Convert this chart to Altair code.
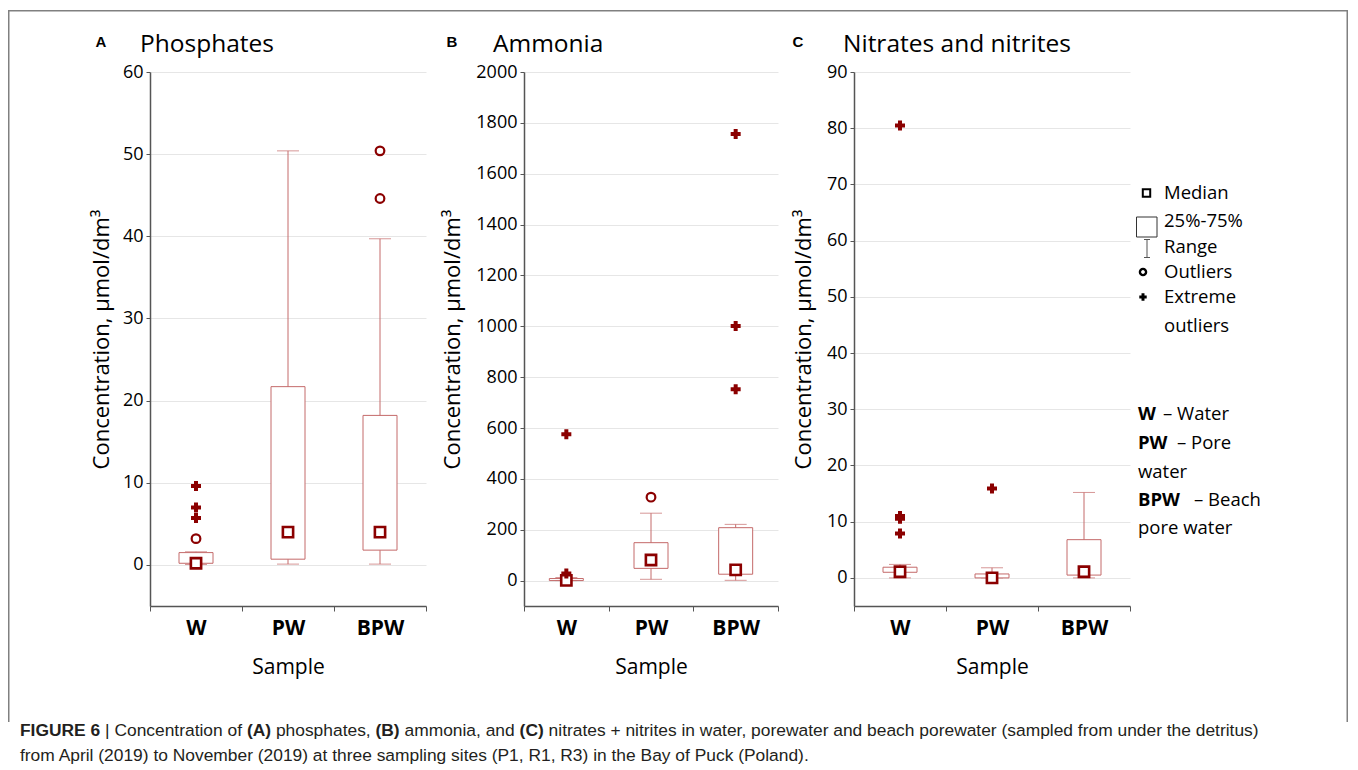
import altair as alt
import pandas as pd

CATS = ["W", "PW", "BPW"]
LETTERS = ["A", "B", "C"]
TITLES = ["Phosphates", "Ammonia", "Nitrates and nitrites"]
Y_TITLE = "Concentration, µmol/dm³"
X_TITLE = "Sample"

# (A) phosphates
PHO_MIN = [0.05, 0.1, 0.1]
PHO_Q1 = [0.2, 0.7, 1.8]
PHO_MED = [0.2, 4.0, 4.0]
PHO_Q3 = [1.5, 21.7, 18.2]
PHO_MAX = [1.6, 50.4, 39.7]
PHO_OUT_CAT = ["W", "BPW", "BPW"]
PHO_OUT_VAL = [3.2, 50.4, 44.6]
PHO_EXT_CAT = ["W", "W", "W"]
PHO_EXT_VAL = [9.6, 7.0, 5.7]
PHO_TICKS = [0, 10, 20, 30, 40, 50, 60]

# (B) ammonia
AMM_MIN = [0, 5, 1]
AMM_Q1 = [0, 48, 25]
AMM_MED = [1, 81, 42]
AMM_Q3 = [8, 149, 208]
AMM_MAX = [12, 265, 221]
AMM_OUT_CAT = ["PW"]
AMM_OUT_VAL = [328]
AMM_EXT_CAT = ["W", "W", "BPW", "BPW", "BPW"]
AMM_EXT_VAL = [575, 28, 1756, 1001, 752]
AMM_TICKS = [0, 200, 400, 600, 800, 1000, 1200, 1400, 1600, 1800, 2000]

# (C) nitrates and nitrites
NIT_MIN = [0.0, 0.0, 0.0]
NIT_Q1 = [1.0, 0.0, 0.5]
NIT_MED = [1.1, 0.0, 1.1]
NIT_Q3 = [1.9, 0.7, 6.8]
NIT_MAX = [2.4, 1.8, 15.2]
NIT_OUT_CAT = []
NIT_OUT_VAL = []
NIT_EXT_CAT = ["W", "W", "W", "W", "PW"]
NIT_EXT_VAL = [80.5, 11.0, 10.5, 7.9, 15.9]
NIT_TICKS = [0, 10, 20, 30, 40, 50, 60, 70, 80, 90]

LEGEND_LABELS = ["Median", "25%-75%", "Range", "Outliers", "Extreme", "outliers"]
CODE_BOLD = ["W", "PW", "BPW"]
CODE_REST = ["– Water", "– Pore", "– Beach"]
CODE_WRAP = ["water", "pore water"]

CAP_LINE1 = ["FIGURE 6", "|", "Concentration of", "(A)", "phosphates,", "(B)",
             "ammonia, and", "(C)",
             "nitrates + nitrites in water, porewater and beach porewater (sampled from under the detritus)"]
CAP_BOLD1 = [True, False, False, True, False, True, False, True, False]
CAP_LINE2 = "from April (2019) to November (2019) at three sampling sites (P1, R1, R3) in the Bay of Puck (Poland)."

BOX_C = "#C46A6A"
DARK = "#8B0000"
AX_C = "#555555"
GRID_C = "#E6E6E6"
FRAME_C = "#808080"
FONT = "Open Sans"
H = 534
ONE = pd.DataFrame({"k": [0]})


def bar(x, x2, y, y2, color=FRAME_C):
    # thin filled rectangle used as a frame / legend line
    return alt.Chart(ONE).mark_rect(fill=color, strokeWidth=0).encode(
        x=alt.value(x), x2=alt.value(x2), y=alt.value(y), y2=alt.value(y2))


def text(s, x, y, size=18.5, bold=False, font=FONT, align="left",
         baseline="middle", color="black"):
    return alt.Chart(ONE).mark_text(
        text=s, font=font, fontSize=size, fontWeight="bold" if bold else "normal",
        align=align, baseline=baseline, color=color
    ).encode(x=alt.value(x), y=alt.value(y))


def panel(i, mins, q1, med, q3, mx, out_cat, out_val, ext_cat, ext_val,
          ymin, ticks, width, title_x, letter_x, head_x, frame_from):
    stats = pd.DataFrame({"cat": CATS, "lo": mins, "q1": q1, "med": med,
                          "q3": q3, "hi": mx})
    xenc = alt.X("cat:N", sort=CATS,
                 scale=alt.Scale(domain=CATS, paddingInner=0, paddingOuter=0),
                 axis=alt.Axis(title=X_TITLE, titleFont=FONT, titleFontSize=21,
                               titleFontWeight="normal", titleColor="black",
                               titleY=61, titleBaseline="middle",
                               labelFont=FONT, labelFontSize=21,
                               labelFontWeight="bold", labelColor="black",
                               labelAngle=0, labelPadding=6, tickBand="extent",
                               tickSize=5, tickColor=AX_C, domainColor=AX_C,
                               domainWidth=1.5, grid=False))
    yscale = alt.Scale(domain=[ymin, ticks[-1]], nice=False, zero=False)
    yaxis = alt.Axis(values=ticks, format="d", title=Y_TITLE, titleFont=FONT,
                     titleFontSize=22, titleFontWeight="normal",
                     titleColor="black", titleAngle=-90, titleX=title_x,
                     titleY=H / 2, titleBaseline="middle", titleAlign="center",
                     labelFont=FONT, labelFontSize=18, labelColor="black",
                     labelPadding=3, tickSize=4, tickColor=AX_C,
                     domainColor=AX_C, domainWidth=1.5, grid=True,
                     gridColor=GRID_C, gridWidth=1)

    def yf(f):
        return alt.Y(f, scale=yscale, axis=yaxis)

    base = alt.Chart(stats)
    layers = [
        base.mark_rule(color=BOX_C, strokeWidth=1).encode(x=xenc, y=yf("lo:Q"), y2="hi:Q"),
        base.mark_tick(color=BOX_C, thickness=1, size=22).encode(x=xenc, y=yf("lo:Q")),
        base.mark_tick(color=BOX_C, thickness=1, size=22).encode(x=xenc, y=yf("hi:Q")),
        base.mark_bar(width=34, fill="white", stroke=BOX_C, strokeWidth=1).encode(
            x=xenc, y=yf("q1:Q"), y2="q3:Q"),
        base.mark_point(shape="square", fill="white", fillOpacity=1, stroke=DARK,
                        strokeWidth=2.6, size=105, opacity=1).encode(x=xenc, y=yf("med:Q")),
    ]
    if out_val:
        od = pd.DataFrame({"cat": out_cat, "v": out_val})
        layers.append(alt.Chart(od).mark_point(
            shape="circle", fill="white", fillOpacity=1, stroke=DARK,
            strokeWidth=2.2, size=75, opacity=1).encode(x=xenc, y=yf("v:Q")))
    if ext_val:
        ed = pd.DataFrame({"cat": ext_cat, "v": ext_val})
        layers.append(alt.Chart(ed).mark_point(
            shape="cross", filled=True, color=DARK, size=100, opacity=1
        ).encode(x=xenc, y=yf("v:Q")))
    layers.append(text(LETTERS[i], letter_x, -25, size=15, bold=True,
                       font="Liberation Sans", align="center", baseline="alphabetic"))
    layers.append(text(TITLES[i], head_x, -20, size=24.5, baseline="alphabetic"))
    # frame pieces (top edge, and left edge on the first panel)
    layers.append(bar(frame_from, width + 2, -62, -60.5))
    if i == 0:
        layers.append(bar(frame_from, frame_from + 1.5, -62, 650))
    return alt.layer(*layers).properties(width=width, height=H)


pA = panel(0, PHO_MIN, PHO_Q1, PHO_MED, PHO_Q3, PHO_MAX, PHO_OUT_CAT, PHO_OUT_VAL,
           PHO_EXT_CAT, PHO_EXT_VAL, -5, PHO_TICKS, 276, -49, -49, -10, -142)
pB = panel(1, AMM_MIN, AMM_Q1, AMM_MED, AMM_Q3, AMM_MAX, AMM_OUT_CAT, AMM_OUT_VAL,
           AMM_EXT_CAT, AMM_EXT_VAL, -100, AMM_TICKS, 254, -72, -72, -31, -96)
pC = panel(2, NIT_MIN, NIT_Q1, NIT_MED, NIT_Q3, NIT_MAX, NIT_OUT_CAT, NIT_OUT_VAL,
           NIT_EXT_CAT, NIT_EXT_VAL, -5, NIT_TICKS, 276, -51, -56, -11, -74)

# legend panel
leg = [
    bar(-4, 212, -62, -60.5),
    bar(210.5, 212, -62, 650),
    alt.Chart(ONE).mark_point(shape="square", filled=False, stroke="black",
                              strokeWidth=2, size=55, opacity=1).encode(
        x=alt.value(10.5), y=alt.value(121)),
    alt.Chart(ONE).mark_rect(fill="white", stroke="#333333", strokeWidth=1).encode(
        x=alt.value(0.5), x2=alt.value(21), y=alt.value(145), y2=alt.value(165)),
    bar(10.5, 11.5, 167, 186, color="#555555"),
    bar(8, 14, 167, 168, color="#555555"),
    bar(8, 14, 185, 186, color="#555555"),
    alt.Chart(ONE).mark_point(shape="circle", filled=False, stroke="black",
                              strokeWidth=2.4, size=38, opacity=1).encode(
        x=alt.value(7), y=alt.value(200)),
    alt.Chart(ONE).mark_point(shape="cross", filled=True, color="black",
                              size=55, opacity=1).encode(
        x=alt.value(7), y=alt.value(225)),
]
for lab, yy in zip(LEGEND_LABELS, [121, 149, 175, 200, 225, 254]):
    leg.append(text(lab, 28, yy))
for b, r, yy, dx in zip(CODE_BOLD, CODE_REST, [342, 371, 428], [27, 41, 58]):
    leg.append(text(b, 2, yy, bold=True))
    leg.append(text(r, dx, yy))
for w, yy in zip(CODE_WRAP, [400, 456]):
    leg.append(text(w, 2, yy))
legend = alt.layer(*leg).properties(width=212, height=H)

row = alt.hconcat(pA, pB, pC, legend, spacing=0)

# caption (origin of this view sits under panel A's plot area)
cap = []
for s, b, xx in zip(CAP_LINE1, CAP_BOLD1,
                    [-130, -45, -35.6, 96.9, 125.9, 225.5, 254.5, 369.6, 398.6]):
    cap.append(text(s, xx, 14, size=17.4, bold=b, font="Liberation Sans",
                    baseline="alphabetic", color="#231F20"))
cap.append(text(CAP_LINE2, -130, 39, size=17.4, font="Liberation Sans",
                baseline="alphabetic", color="#231F20"))
caption = alt.layer(*cap).properties(width=10, height=10)

chart = alt.vconcat(row, caption, spacing=0).properties(
    padding={"left": 0, "top": 2, "right": 0, "bottom": 0}
).configure(font=FONT, view=alt.ViewConfig(strokeWidth=0, stroke="transparent"))

chart.save("out.html", embed_options={"renderer": "svg", "actions": False})
